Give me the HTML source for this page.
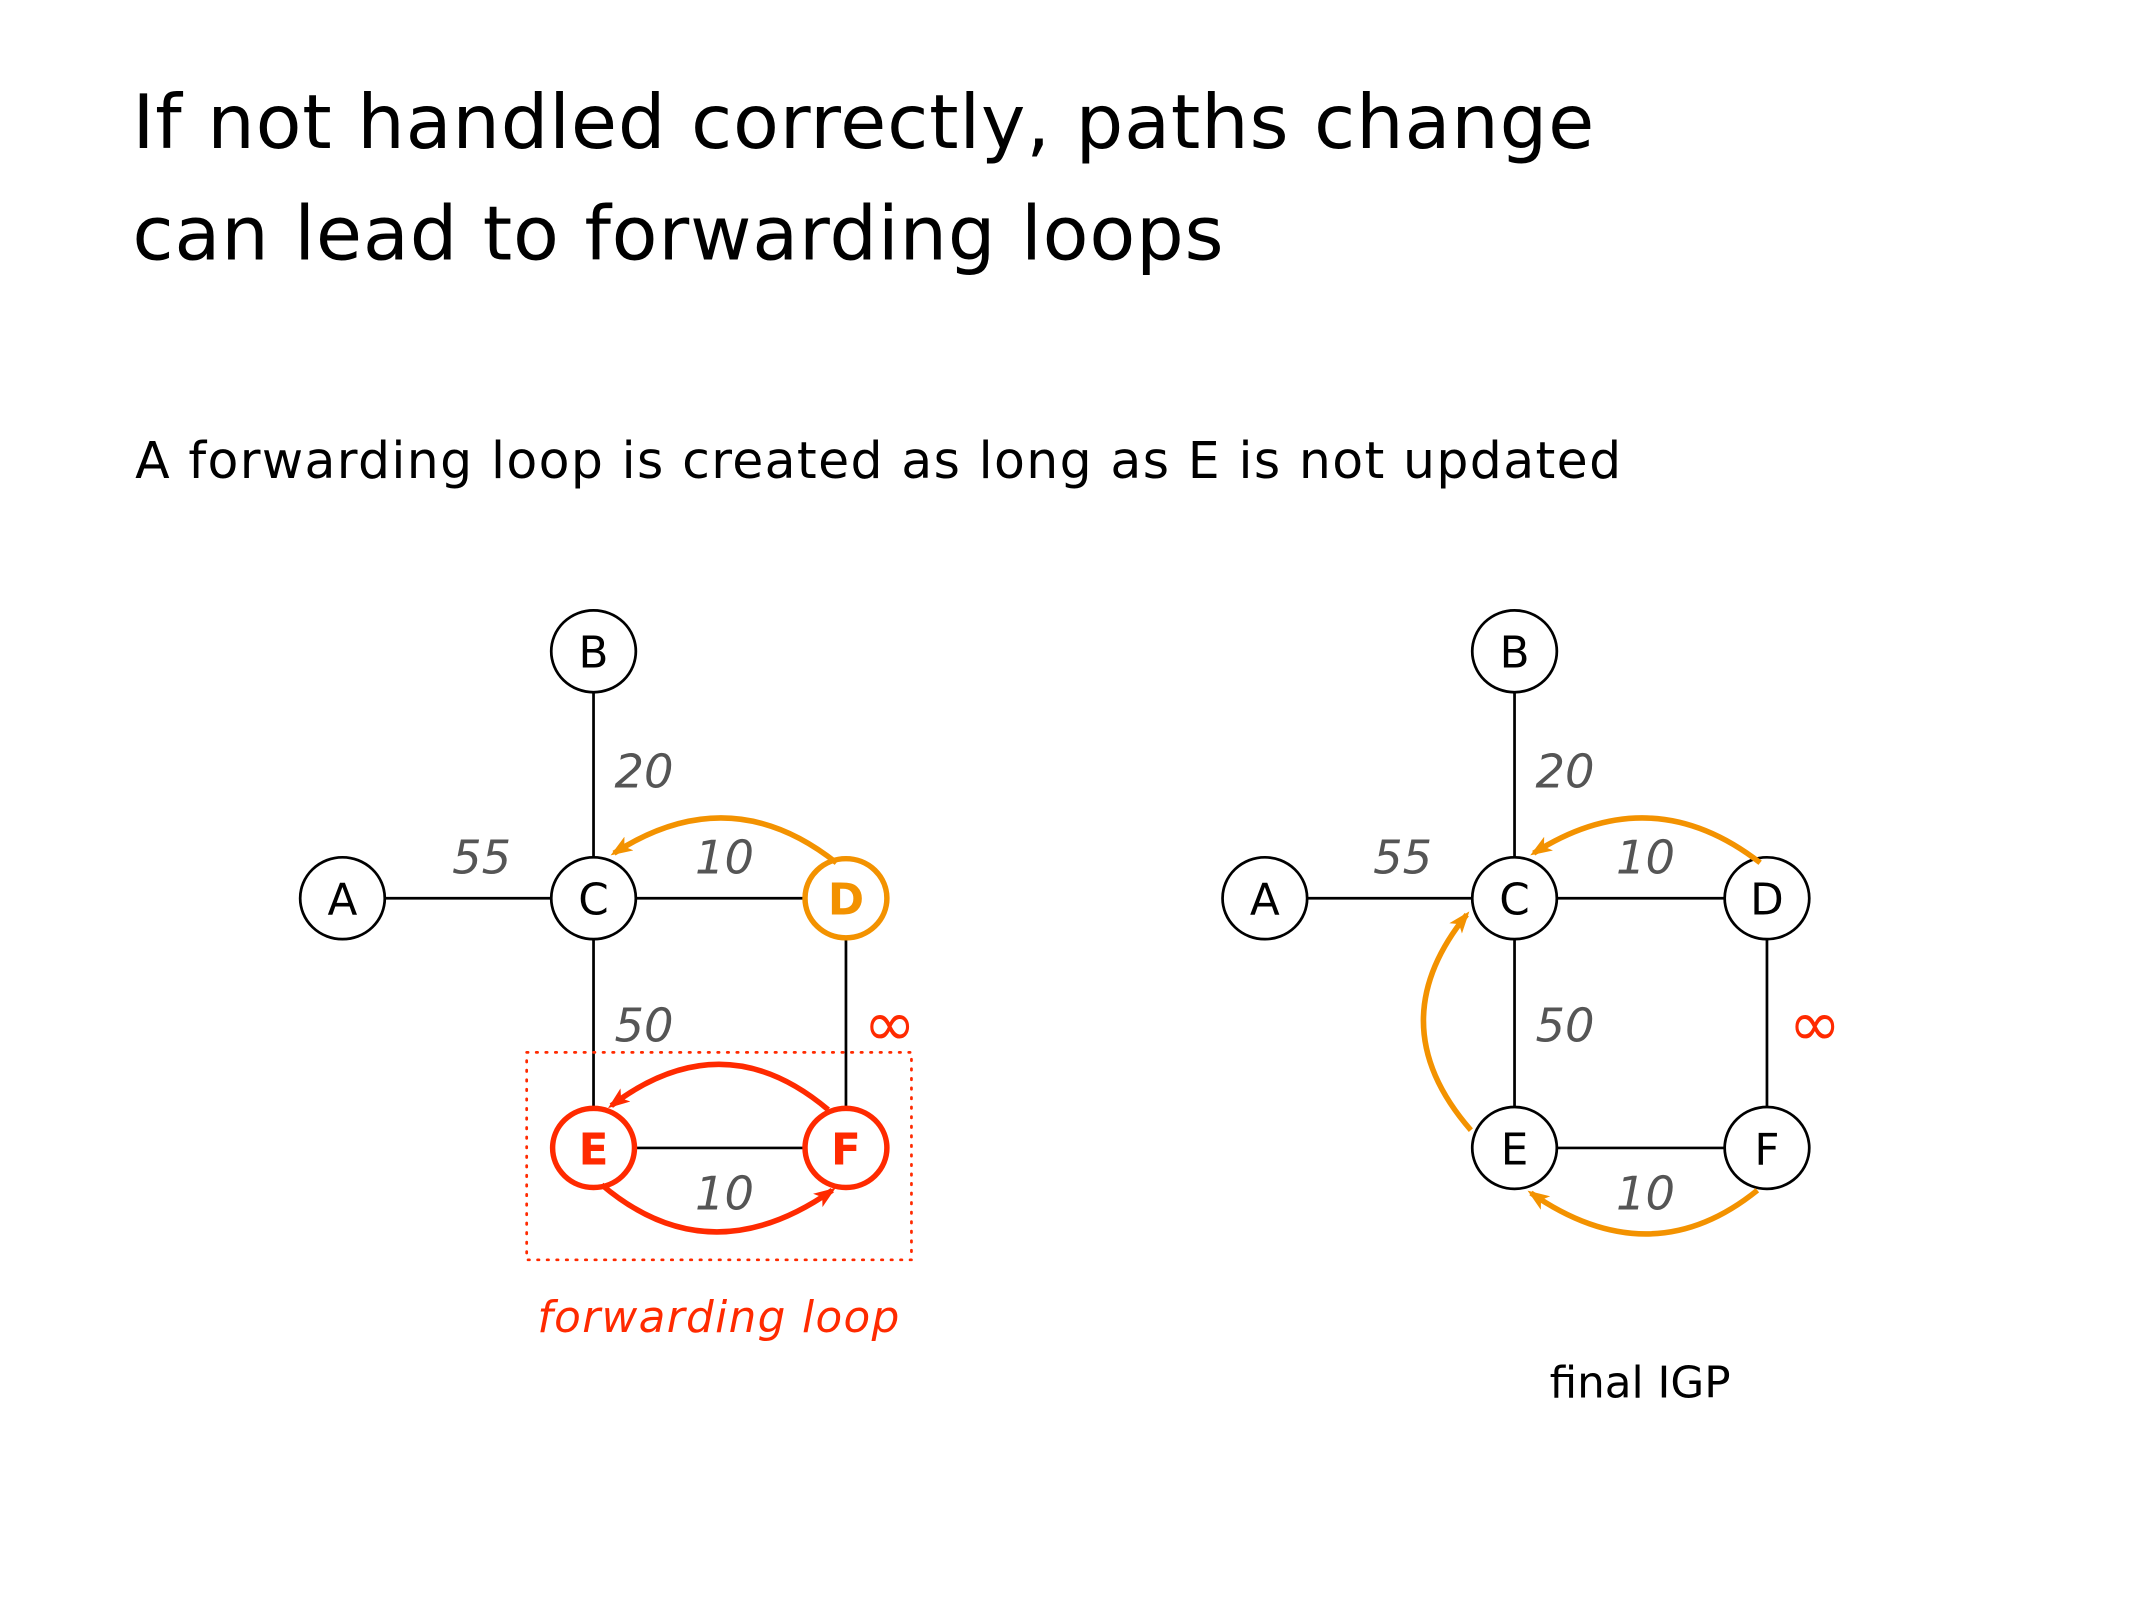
<!DOCTYPE html>
<html><head><style>html,body{margin:0;padding:0;background:#fff}svg{display:block}</style></head>
<body>
<svg width="2134" height="1600" viewBox="0 0 1564 1172" xmlns="http://www.w3.org/2000/svg" font-family="'DejaVu Sans', 'Liberation Sans', sans-serif">
<defs>
<marker id="ao" markerWidth="16" markerHeight="12" refX="13" refY="6" orient="auto" markerUnits="userSpaceOnUse" viewBox="0 0 16 12"><path d="M0,0 L16,6 L0,12 L4,6z" fill="#f39200"/></marker>
<marker id="ar" markerWidth="16" markerHeight="12" refX="13" refY="6" orient="auto" markerUnits="userSpaceOnUse" viewBox="0 0 16 12"><path d="M0,0 L16,6 L0,12 L4,6z" fill="#ff2a00"/></marker>
</defs>
<text x="97" y="108" font-size="55" fill="#000" letter-spacing="0.6">If not handled correctly, paths change</text>
<text x="97" y="190" font-size="55" fill="#000" letter-spacing="0.6">can lead to forwarding loops</text>
<text x="99" y="350" font-size="37" fill="#000" letter-spacing="1">A forwarding loop is created as long as E is not updated</text>

<g stroke="#000" stroke-width="2">
<line x1="251" y1="658" x2="620" y2="658"/><line x1="435" y1="477" x2="435" y2="841"/><line x1="620" y1="658" x2="620" y2="841"/><line x1="435" y1="841" x2="620" y2="841"/>
<line x1="927" y1="658" x2="1295" y2="658"/><line x1="1110" y1="477" x2="1110" y2="841"/><line x1="1295" y1="658" x2="1295" y2="841"/><line x1="1110" y1="841" x2="1295" y2="841"/>
</g>
<rect x="386" y="771" width="282" height="152" fill="none" stroke="#ff2a00" stroke-width="2" stroke-dasharray="1 6" stroke-linecap="round"/>

<g font-size="34" font-style="italic" fill="#555" text-anchor="middle">
<text x="472" y="577">20</text><text x="353" y="640">55</text><text x="531" y="640">10</text><text x="472" y="763">50</text><text x="531" y="886">10</text>
<text x="1147" y="577">20</text><text x="1028" y="640">55</text><text x="1206" y="640">10</text><text x="1147" y="763">50</text><text x="1206" y="886">10</text>
</g>
<text x="652" y="766" font-size="46" font-style="italic" fill="#ff2a00" text-anchor="middle">∞</text>
<text x="1330" y="766" font-size="46" font-style="italic" fill="#ff2a00" text-anchor="middle">∞</text>

<g fill="#fff" stroke="#000" stroke-width="2">
<ellipse cx="251" cy="658" rx="31" ry="30"/><ellipse cx="435" cy="477" rx="31" ry="30"/><ellipse cx="435" cy="658" rx="31" ry="30"/>
<ellipse cx="927" cy="658" rx="31" ry="30"/><ellipse cx="1110" cy="477" rx="31" ry="30"/><ellipse cx="1110" cy="658" rx="31" ry="30"/><ellipse cx="1295" cy="658" rx="31" ry="30"/><ellipse cx="1110" cy="841" rx="31" ry="30"/><ellipse cx="1295" cy="841" rx="31" ry="30"/>
</g>
<ellipse cx="620" cy="658" rx="30" ry="29" fill="#fff" stroke="#f39200" stroke-width="4"/>
<ellipse cx="435" cy="841" rx="30" ry="29" fill="#fff" stroke="#ff2a00" stroke-width="4"/>
<ellipse cx="620" cy="841" rx="30" ry="29" fill="#fff" stroke="#ff2a00" stroke-width="4"/>

<g font-size="32" text-anchor="middle" fill="#000">
<text x="251" y="670">A</text><text x="435" y="489">B</text><text x="435" y="670">C</text>
<text x="927" y="670">A</text><text x="1110" y="489">B</text><text x="1110" y="670">C</text><text x="1295" y="670">D</text><text x="1110" y="853">E</text><text x="1295" y="853">F</text>
</g>
<g font-size="32" text-anchor="middle" font-weight="bold">
<text x="620" y="670" fill="#f39200">D</text><text x="435" y="853" fill="#ff2a00">E</text><text x="620" y="853" fill="#ff2a00">F</text>
</g>

<g fill="none" stroke-width="4">
<path d="M613,632 Q535,570 450,625" stroke="#f39200" marker-end="url(#ao)"/>
<path d="M607,813 Q530,748 448,810" stroke="#ff2a00" marker-end="url(#ar)"/>
<path d="M441,868 Q520,935 610,872" stroke="#ff2a00" marker-end="url(#ar)"/>
<path d="M1290,632 Q1210,570 1124,625" stroke="#f39200" marker-end="url(#ao)"/>
<path d="M1078,828 Q1010,750 1075,670" stroke="#f39200" marker-end="url(#ao)"/>
<path d="M1288,872 Q1210,935 1122,874" stroke="#f39200" marker-end="url(#ao)"/>
</g>

<text x="527" y="976" font-size="32" font-style="italic" fill="#ff2a00" text-anchor="middle" letter-spacing="1">forwarding loop</text>
<text x="1202" y="1024" font-size="32" fill="#000" text-anchor="middle">final IGP</text>
</svg>
</body></html>
